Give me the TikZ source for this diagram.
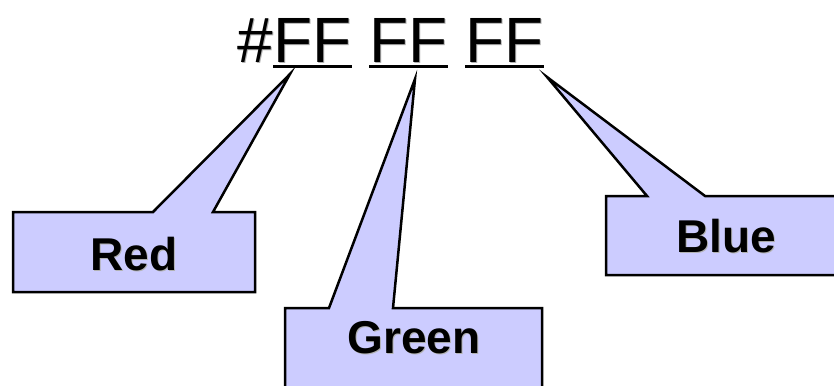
\documentclass[tikz,border=0pt]{standalone}
\usepackage{fontspec}
\setmainfont{Liberation Sans}
\definecolor{callfill}{HTML}{CCCCFF}
\begin{document}
\begin{tikzpicture}[x=1pt,y=-1pt,
  callout/.style={fill=callfill,draw=black,line width=2.5pt,line join=miter},
  bigtext/.style={inner sep=0pt,font=\fontsize{64}{64}\selectfont},
  labeltext/.style={inner sep=0pt,font=\fontsize{46}{46}\selectfont\bfseries},
  shadowtext/.style={text=black!30},
  uline/.style={line width=3pt}]
\useasboundingbox (0,0) rectangle (834,385);
% tips
\coordinate (tipR) at (290,74);
\coordinate (tipG) at (415,79);
\coordinate (tipB) at (547,77);
% callouts
\draw[callout] (13,212) -- (153,212) -- (tipR) -- (213,212) -- (255,212) -- (255,292) -- (13,292) -- cycle;
\draw[callout] (285,308) -- (329,308) -- (tipG) -- (393,308) -- (542,308) -- (542,392) -- (285,392) -- cycle;
\draw[callout] (606,196) -- (647,196) -- (tipB) -- (705,196) -- (842,196) -- (842,275) -- (606,275) -- cycle;
% text with soft shadow
\foreach \dx/\dy/\st in {1/1/shadowtext, 0/0/{}} {
  \begin{scope}[shift={(\dx,\dy)}]
  \node[bigtext,anchor=base east,\st] at (273,63) {\#};
  \node[bigtext,anchor=base west,\st] at (273,63) {FF};
  \node[bigtext,anchor=base west,\st] at (369,63) {FF};
  \node[bigtext,anchor=base west,\st] at (465,63) {FF};
  \node[labeltext,anchor=base,\st] at (134,270) {Red};
  \node[labeltext,anchor=base,\st] at (414,353) {Green};
  \node[labeltext,anchor=base,\st] at (726,252) {Blue};
  \end{scope}
}
\node[bigtext,anchor=base west] (ff1) at (273,63) {\phantom{FF}};
\node[bigtext,anchor=base west] (ff2) at (369,63) {\phantom{FF}};
\node[bigtext,anchor=base west] (ff3) at (465,63) {\phantom{FF}};
\foreach \n in {ff1,ff2,ff3}
  \draw[uline] ([yshift=-3.5pt]\n.base west) -- ([yshift=-3.5pt]\n.base east);
\end{tikzpicture}
\end{document}
